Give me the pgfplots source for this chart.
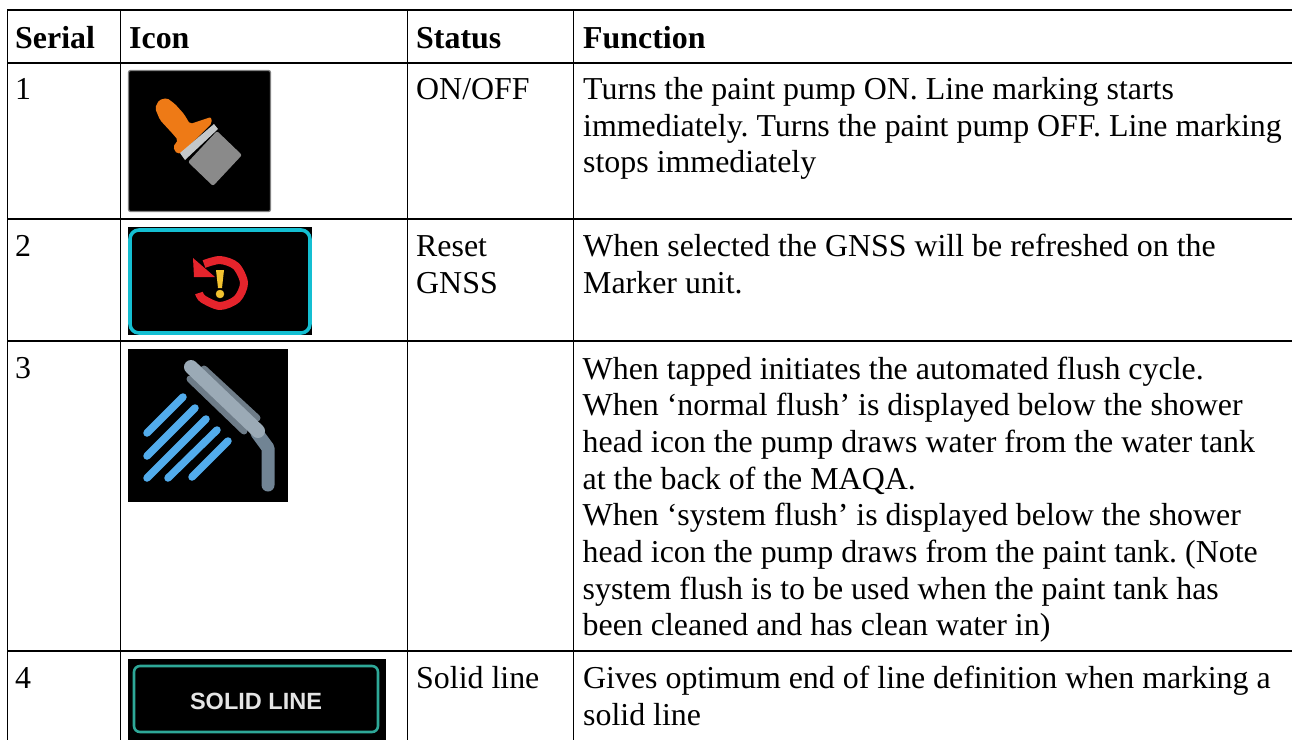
\documentclass[border=0pt]{standalone}
\usepackage{pgfplots}
\pgfplotsset{compat=1.18}
\usepackage{fontspec}
\setmainfont{Liberation Serif}
\newfontfamily\iconfont{Liberation Sans}
\frenchspacing
\definecolor{brushor}{HTML}{EE7A16}
\definecolor{brushgr}{HTML}{8A8A8A}
\definecolor{brushwh}{HTML}{C4C8CA}
\definecolor{cyanb}{HTML}{14BFD2}
\definecolor{redi}{HTML}{E5242C}
\definecolor{yeli}{HTML}{F2C230}
\definecolor{shlight}{HTML}{9BAAB6}
\definecolor{shdark}{HTML}{6E7C88}
\definecolor{shneck}{HTML}{718494}
\definecolor{blue1}{HTML}{52ACEC}
\definecolor{tealb}{HTML}{2EA898}
\newcommand{\T}[3]{\node[anchor=base west,inner sep=0pt,font=\fontsize{31.9}{31.9}\selectfont] at (axis cs:#1,#2) {#3};}
\newcommand{\B}[3]{\node[anchor=base west,inner sep=0pt,font=\fontsize{31.9}{31.9}\selectfont\bfseries] at (axis cs:#1,#2) {#3};}
\begin{document}
\begin{tikzpicture}
\begin{axis}[
  hide axis, scale only axis, width=1292pt, height=740pt,
  xmin=0, xmax=1292, ymin=0, ymax=740, y dir=reverse,
  every axis plot/.append style={no markers, line join=round},
]
% page background fixes the picture's extent
\addplot[fill=white, draw=none] coordinates {(0,0)(1292,0)(1292,740)(0,740)} --cycle;
% icon 1: brush
\addplot[fill=black, draw=gray, line width=1.2pt, rounded corners=2pt] coordinates {(128.5,70.5)(270.5,70.5)(270.5,211.5)(128.5,211.5)} --cycle;
\addplot[fill=brushor, draw=none, rounded corners=2pt] coordinates {(155,108)(159,100)(167,98)(175,104)(184,114)(190,124)(211,117)(212,123)(183,152)(177,154)(173,147)(178,140)(172,133)(160,120)} --cycle;
\addplot[fill=brushwh, draw=none] coordinates {(180,153)(214,124)(218,129)(185,160)} --cycle;
\addplot[fill=brushgr, draw=none, rounded corners=2pt] coordinates {(188,162)(217,131)(242,155)(213,186)} --cycle;
% icon 2: reset
\addplot[fill=black, draw=none] coordinates {(128,227)(312,227)(312,335)(128,335)} --cycle;
\addplot[draw=cyanb, line width=3.6pt, rounded corners=9pt] coordinates {(130,230)(310,230)(310,333)(130,333)} --cycle;
\addplot[draw=redi, line width=8pt, smooth] coordinates {(204,264)(220,260)(236,266)(244,283)(237,299)(220,306)(203,299)(199,293)};
\addplot[fill=redi, draw=none] coordinates {(193,258)(194,277)(215,277)} --cycle;
\addplot[fill=yeli, draw=none] coordinates {(216,270)(224,270)(222,288)(218,288)} --cycle;
\addplot[only marks, mark=*, mark size=4pt, color=yeli] coordinates {(220,294)};
% icon 3: shower
\addplot[fill=black, draw=none] coordinates {(128,349)(288,349)(288,502)(128,502)} --cycle;
\addplot[draw=shdark, line width=7pt, line cap=round] coordinates {(204,369)(257,418)};
\addplot[draw=shdark, line width=7pt, line cap=round] coordinates {(190,379)(244,431)};
\addplot[draw=shneck, line width=13pt, line cap=round] coordinates {(257,433)(268,448)(268,485)};
\addplot[draw=shlight, line width=14pt, line cap=round] coordinates {(191,367)(258,431)};
\addplot[draw=blue1, line width=7.5pt, line cap=round] coordinates {(147,433)(183,397)};
\addplot[draw=blue1, line width=7.5pt, line cap=round] coordinates {(147,456)(195,408)};
\addplot[draw=blue1, line width=7.5pt, line cap=round] coordinates {(147,478)(206,419)};
\addplot[draw=blue1, line width=7.5pt, line cap=round] coordinates {(168,478)(217,430)};
\addplot[draw=blue1, line width=7.5pt, line cap=round] coordinates {(192,477)(228,441)};
% icon 4: solid line
\addplot[fill=black, draw=none] coordinates {(128,659)(386,659)(386,740)(128,740)} --cycle;
\addplot[draw=tealb, line width=2.6pt, rounded corners=6pt] coordinates {(134,666)(378,666)(378,732)(134,732)} --cycle;
\node[anchor=base,inner sep=0pt,text=white!90!black,font=\fontsize{23.5}{23.5}\selectfont\iconfont\bfseries] at (axis cs:256,709) {SOLID LINE};
% grid
\addplot[black, line width=1.4pt] coordinates {(7,10)(1292,10)};
\addplot[black, line width=1.4pt] coordinates {(7,63)(1292,63)};
\addplot[black, line width=1.4pt] coordinates {(7,219)(1292,219)};
\addplot[black, line width=1.4pt] coordinates {(7,341)(1292,341)};
\addplot[black, line width=1.4pt] coordinates {(7,651)(1292,651)};
\addplot[black, line width=1.4pt] coordinates {(7.5,10)(7.5,740)};
\addplot[black, line width=1.4pt] coordinates {(120.5,10)(120.5,740)};
\addplot[black, line width=1.4pt] coordinates {(407.5,10)(407.5,740)};
\addplot[black, line width=1.4pt] coordinates {(573.5,10)(573.5,740)};
% text
\B{15}{48}{Serial}
\B{129}{48}{Icon}
\B{416}{48}{Status}
\B{583}{48}{Function}
\T{15}{99}{1}
\T{416}{99}{ON/OFF}
\T{583}{99}{Turns the paint pump ON. Line marking starts}
\T{583}{136}{immediately. Turns the paint pump OFF. Line marking}
\T{583}{172.5}{stops immediately}
\T{15}{256}{2}
\T{416}{256}{Reset}
\T{416}{293}{GNSS}
\T{583}{256}{When selected the GNSS will be refreshed on the}
\T{583}{293}{Marker unit.}
\T{15}{378.5}{3}
\T{582.5}{379}{When tapped initiates the automated flush cycle.}
\T{582.5}{415}{When ‘normal flush’ is displayed below the shower}
\T{582.5}{452.3}{head icon the pump draws water from the water tank}
\T{582.5}{489}{at the back of the MAQA.}
\T{582.5}{525}{When ‘system flush’ is displayed below the shower}
\T{582.5}{562.3}{head icon the pump draws from the paint tank. (Note}
\T{582.5}{599}{system flush is to be used when the paint tank has}
\T{582.5}{635}{been cleaned and has clean water in)}
\T{15}{688}{4}
\T{416}{688}{Solid line}
\T{583}{688}{Gives optimum end of line definition when marking a}
\T{583}{725}{solid line}
\end{axis}
\end{tikzpicture}
\end{document}
